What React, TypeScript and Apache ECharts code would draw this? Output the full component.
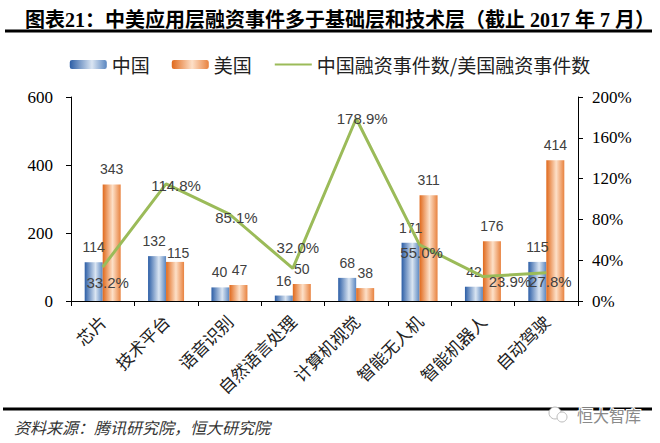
import React, { useEffect, useRef } from "react";
import * as echarts from "echarts";

const titleText = "图表21：中美应用层融资事件多于基础层和技术层（截止 2017 年 7 月）";
const sourceText = "资料来源：腾讯研究院，恒大研究院";
const watermarkText = "恒大智库";
const categories = ["芯片", "技术平台", "语音识别", "自然语言处理", "计算机视觉", "智能无人机", "智能机器人", "自动驾驶"];
const chinaName = "中国";
const usName = "美国";
const ratioName = "中国融资事件数/美国融资事件数";
const chinaValues = [114, 132, 40, 16, 68, 171, 42, 115];
const usValues = [343, 115, 47, 50, 38, 311, 176, 414];
const ratioValues = [33.2, 114.8, 85.1, 32.0, 178.9, 55.0, 23.9, 27.8];
// label offsets (style only)
const ratioLabelOffsets: [number, number][] = [
  [5, 15], [10, 2], [7, 3], [5, -21], [6, 0], [2, 8], [27, 5], [4, 9],
];
const chinaLabelOffsets: [number, number][] = [
  [0, 0], [-3, 0], [-1, 0], [0, 0], [0, 0], [0, 0], [0, 0], [0, 0],
];
const usLabelOffsets: [number, number][] = [
  [0, 0], [3, 6], [1, 0], [0, 0], [0, 0], [0, 0], [0, 0], [0, 0],
];

const serif = "'Liberation Serif', 'Times New Roman', 'Noto Sans CJK SC', serif";
const cjk = "'Noto Sans CJK SC', sans-serif";
const labelFont = "'Liberation Sans', 'Noto Sans', sans-serif";

export default function App() {
  const ref = useRef<HTMLDivElement>(null);
  useEffect(() => {
    if (!ref.current) return;
    const chart = echarts.init(ref.current, null, { renderer: "svg" });
    const blueGrad = new echarts.graphic.LinearGradient(0, 0, 1, 0, [
      { offset: 0, color: "#2c5ea6" },
      { offset: 0.6, color: "#dae5f2" },
      { offset: 1, color: "#5a86c0" },
    ]);
    const orangeGrad = new echarts.graphic.LinearGradient(0, 0, 1, 0, [
      { offset: 0, color: "#e0691c" },
      { offset: 0.55, color: "#fde0c8" },
      { offset: 1, color: "#e8823f" },
    ]);
    const barLabel = {
      show: true,
      position: "top",
      distance: 8,
      fontFamily: labelFont,
      fontSize: 14,
      color: "#404040",
    };
    chart.setOption({
      animation: false,
      backgroundColor: "#ffffff",
      title: {
        text: titleText,
        left: 20,
        top: 5,
        textStyle: { fontFamily: serif, fontSize: 20, fontWeight: "bold", color: "#000" },
      },
      legend: {
        left: "center",
        top: 50,
        itemWidth: 37,
        itemHeight: 9,
        itemGap: 22,
        textStyle: { fontFamily: cjk, fontSize: 19, color: "#222" },
        data: [
          { name: chinaName },
          { name: usName },
          { name: ratioName, itemStyle: { opacity: 0 } },
        ],
      },
      grid: { left: 71, right: 82, top: 97, bottom: 142, containLabel: false },
      xAxis: {
        type: "category",
        data: categories,
        axisLine: { lineStyle: { color: "#000", width: 1 } },
        axisTick: { show: true, length: 5, lineStyle: { color: "#000" } },
        axisLabel: {
          rotate: 45,
          margin: 17,
          fontFamily: cjk,
          fontSize: 17,
          color: "#222",
        },
      },
      yAxis: [
        {
          type: "value",
          min: 0,
          max: 600,
          interval: 200,
          splitLine: { show: false },
          axisLine: { show: true, lineStyle: { color: "#000" } },
          axisTick: { show: true, length: 5, lineStyle: { color: "#000" } },
          axisLabel: { margin: 18, fontFamily: serif, fontSize: 17, color: "#000" },
        },
        {
          type: "value",
          min: 0,
          max: 200,
          interval: 40,
          position: "right",
          splitLine: { show: false },
          axisLine: { show: true, lineStyle: { color: "#000" } },
          axisTick: { show: true, length: 5, lineStyle: { color: "#000" } },
          axisLabel: { margin: 14, fontFamily: serif, fontSize: 17, color: "#000", formatter: "{value}%" },
        },
      ],
      series: [
        {
          name: chinaName,
          type: "bar",
          data: chinaValues.map((v, i) => ({ value: v, label: { offset: chinaLabelOffsets[i] } })),
          barWidth: 18,
          barGap: "0%",
          itemStyle: { color: blueGrad },
          label: barLabel,
        },
        {
          name: usName,
          type: "bar",
          data: usValues.map((v, i) => ({ value: v, label: { offset: usLabelOffsets[i] } })),
          barWidth: 18,
          barGap: "0%",
          itemStyle: { color: orangeGrad },
          label: barLabel,
        },
        {
          name: ratioName,
          type: "line",
          yAxisIndex: 1,
          data: ratioValues.map((v, i) => ({
            value: v,
            label: { offset: ratioLabelOffsets[i] },
          })),
          symbol: "circle",
          symbolSize: 0.1,
          itemStyle: { color: "#9bbb59" },
          lineStyle: { color: "#9bbb59", width: 3 },
          label: {
            show: true,
            position: "inside",
            fontFamily: labelFont,
            fontSize: 15,
            color: "#404040",
            formatter: (p: any) => Number(p.value).toFixed(1) + "%",
          },
          z: 5,
        },
      ],
      graphic: [
        {
          type: "line",
          shape: { x1: 5, y1: 31, x2: 652, y2: 31 },
          style: { stroke: "#000", lineWidth: 3 },
        },
        {
          type: "line",
          shape: { x1: 3, y1: 409, x2: 652, y2: 409 },
          style: { stroke: "#000", lineWidth: 3 },
        },
        {
          type: "text",
          x: 14,
          y: 427,
          style: {
            text: sourceText,
            fontFamily: cjk,
            fontSize: 16,
            fontStyle: "italic",
            fill: "#333",
            verticalAlign: "middle",
          },
        },
        {
          type: "circle",
          shape: { cx: 555, cy: 413, r: 6 },
          style: { fill: "#fff", stroke: "#bbb", lineWidth: 1 },
        },
        {
          type: "circle",
          shape: { cx: 562, cy: 417, r: 5 },
          style: { fill: "#fff", stroke: "#bbb", lineWidth: 1 },
        },
        {
          type: "text",
          x: 577,
          y: 415,
          style: {
            text: watermarkText,
            fontFamily: cjk,
            fontSize: 16,
            fill: "#8a8a8a",
            stroke: "#fff",
            lineWidth: 2,
            verticalAlign: "middle",
          },
        },
      ],
    });
    return () => chart.dispose();
  }, []);
  return <div ref={ref} style={{ position: "fixed", left: 0, top: 0, width: 660, height: 443 }} />;
}
